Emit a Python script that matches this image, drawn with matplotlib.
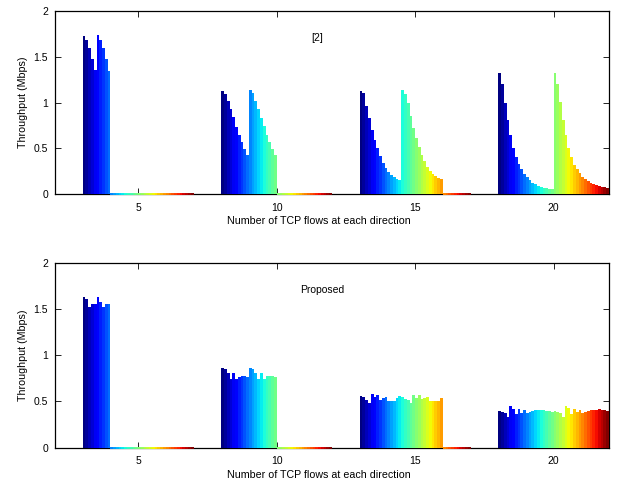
import matplotlib
matplotlib.use('Agg')
import matplotlib.pyplot as plt
import numpy as np

plt.rcParams['font.family'] = ['Liberation Sans', 'DejaVu Sans']

# number of TCP flows per direction, one bar group each
flows = [5, 10, 15, 20]
n_cols = 40

# throughput per flow (Mbps), first half = one direction, second half = the other
ref_5 = [1.728, 1.681, 1.597, 1.477, 1.354,
         1.735, 1.681, 1.597, 1.477, 1.346]
ref_10 = [1.129, 1.093, 1.017, 0.929, 0.845, 0.736, 0.643, 0.566, 0.493, 0.428,
          1.135, 1.100, 1.020, 0.930, 0.830, 0.740, 0.645, 0.570, 0.490, 0.430]
ref_15 = [1.129, 1.100, 0.962, 0.828, 0.700, 0.590, 0.500, 0.417, 0.344, 0.283,
          0.246, 0.210, 0.185, 0.167, 0.156,
          1.135, 1.090, 0.990, 0.850, 0.720, 0.610, 0.510, 0.430, 0.360, 0.300,
          0.255, 0.220, 0.195, 0.180, 0.165]
ref_20 = [1.320, 1.200, 1.000, 0.805, 0.643, 0.509, 0.408, 0.329, 0.271, 0.220,
          0.184, 0.155, 0.126, 0.108, 0.094, 0.083, 0.072, 0.065, 0.058, 0.054,
          1.320, 1.200, 1.010, 0.805, 0.643, 0.500, 0.408, 0.320, 0.271, 0.227,
          0.190, 0.170, 0.144, 0.126, 0.112, 0.101, 0.090, 0.083, 0.076, 0.065]

prop_5 = [1.629, 1.604, 1.517, 1.550, 1.550,
          1.629, 1.580, 1.517, 1.550, 1.550]
prop_10 = [0.861, 0.847, 0.804, 0.739, 0.811, 0.739, 0.768, 0.775, 0.775, 0.768,
           0.861, 0.847, 0.804, 0.739, 0.804, 0.739, 0.775, 0.775, 0.775, 0.768]
prop_15 = [0.559, 0.544, 0.515, 0.479, 0.577, 0.544, 0.569, 0.515, 0.541, 0.551,
           0.505, 0.505, 0.505, 0.533, 0.559,
           0.548, 0.526, 0.515, 0.479, 0.569, 0.541, 0.569, 0.526, 0.541, 0.551,
           0.505, 0.505, 0.505, 0.505, 0.533]
prop_20 = [0.400, 0.389, 0.371, 0.335, 0.454, 0.414, 0.364, 0.418, 0.371, 0.407,
           0.371, 0.386, 0.396, 0.404, 0.407, 0.407, 0.404, 0.400, 0.393, 0.389,
           0.400, 0.389, 0.371, 0.335, 0.454, 0.425, 0.364, 0.418, 0.389, 0.407,
           0.371, 0.389, 0.396, 0.404, 0.407, 0.411, 0.414, 0.411, 0.407, 0.400]

panels = [
    ('[2]', [ref_5, ref_10, ref_15, ref_20]),
    ('Proposed', [prop_5, prop_10, prop_15, prop_20]),
]

colors = plt.cm.jet(np.linspace(0, 1, n_cols))
group_w = 0.8 * (flows[1] - flows[0])
bar_w = group_w / n_cols

fig = plt.figure(figsize=(6.25, 4.83), dpi=100)
positions = [[0.088, 0.5977, 0.8864, 0.3801], [0.088, 0.0731, 0.8864, 0.3830]]
text_pos = [(0.473, 0.851), (0.482, 0.852)]

for (name, groups), pos, tpos in zip(panels, positions, text_pos):
    ax = fig.add_axes(pos)
    for center, vals in zip(flows, groups):
        heights = np.zeros(n_cols)
        heights[:len(vals)] = vals
        xs = center - group_w / 2 + bar_w * (np.arange(n_cols) + 0.5)
        full = heights > 0
        ax.bar(xs[full], heights[full], width=bar_w, color=colors[full],
               linewidth=0, zorder=3)
        # empty slots show up as a thin coloured line on the axis
        ax.bar(xs[~full], heights[~full], width=bar_w, color=colors[~full],
               edgecolor=colors[~full], linewidth=1.4, zorder=3, clip_on=False)

    ax.set_xlim(2, 22)
    ax.set_ylim(0, 2)
    ax.set_xticks(flows)
    ax.set_yticks([0, 0.5, 1, 1.5, 2])
    ax.set_yticklabels(['0', '0.5', '1', '1.5', '2'])
    ax.tick_params(direction='in', length=4, width=0.6, labelsize=7.5,
                   top=True, right=True)
    ax.tick_params(axis='x', pad=6)
    ax.tick_params(axis='y', pad=5)
    for sp in ax.spines.values():
        sp.set_linewidth(0.9)
        sp.set_zorder(2)
    ax.set_xlabel('Number of TCP flows at each direction', fontsize=7.7)
    ax.set_ylabel('Throughput (Mbps)', fontsize=7.7, labelpad=4)
    ax.xaxis.set_label_coords(0.4765, -0.118)
    ax.text(tpos[0], tpos[1], name, transform=ax.transAxes, fontsize=7.5,
            ha='center', va='center')

fig.savefig('out.png', dpi=100)
